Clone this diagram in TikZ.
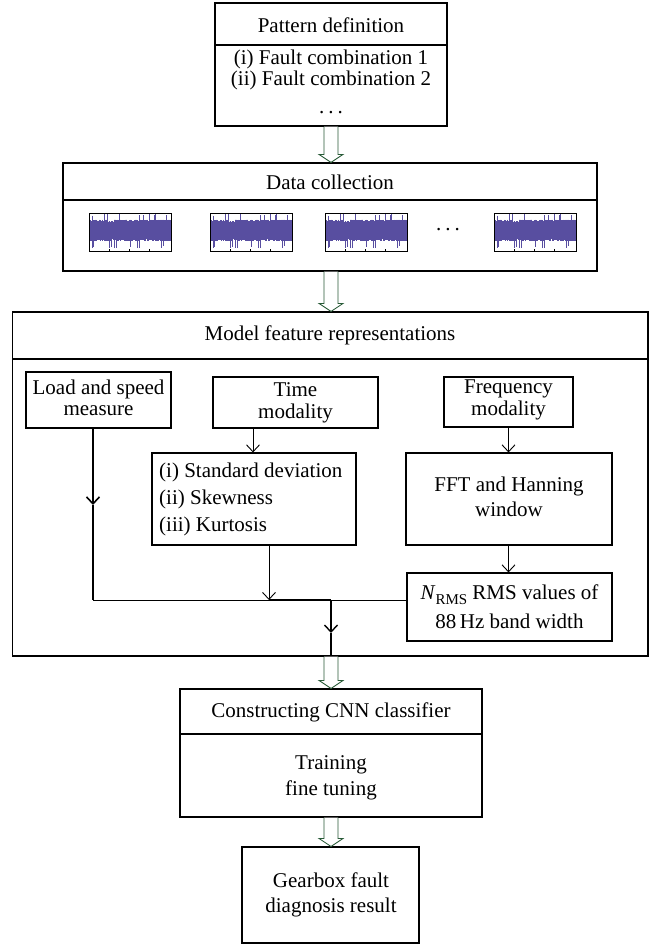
\documentclass[tikz,border=0pt]{standalone}
\usepackage{fontspec}
\setmainfont{Liberation Serif}
\usetikzlibrary{arrows.meta,calc}
\definecolor{arrgreen}{RGB}{40,90,55}
\definecolor{wavecol}{RGB}{88,78,160}
\tikzset{
  box/.style={draw=black, line width=1.1pt, inner sep=0pt, fill=white},
  lbl/.style={font=\fontsize{21}{21.5}\selectfont, inner sep=0pt, align=center},
  conn/.style={line width=0.9pt, -{Straight Barb[length=7pt,width=13pt]}},
  plain/.style={line width=0.9pt},
  hollow/.style={draw=arrgreen, line width=0.9pt, fill=white, line join=miter},
  wbox/.style={draw=black, line width=0.8pt, inner sep=0pt}
}
\newcommand\mkbox[6][]{% name, x1,y1,x2,y2
  \pgfmathsetmacro\bxcx{(#3+#5)/2}\pgfmathsetmacro\bxcy{(#4+#6)/2}%
  \pgfmathsetmacro\bxw{#5-#3}\pgfmathsetmacro\bxh{#6-#4}%
  \node[box, minimum width=\bxw pt, minimum height=\bxh pt, #1] (#2) at (\bxcx,\bxcy) {};}
% hollow arrow from south of node #1 to north of node #2
\newcommand\hollowarrow[2]{%
  \draw[hollow] ([xshift=-7pt]#1.south) -- ([xshift=-7pt,yshift=8pt]#1.south |- #2.north)
    -- ([xshift=-12pt,yshift=8pt]#1.south |- #2.north) -- (#1.south |- #2.north)
    -- ([xshift=12pt,yshift=8pt]#1.south |- #2.north) -- ([xshift=7pt,yshift=8pt]#1.south |- #2.north)
    -- ([xshift=7pt]#1.south);}
% waveform in box, left x, name
\newcommand\wave[2]{%
  \pgfmathsetseed{4711}%
  \node[wbox, minimum width=82pt, minimum height=38pt] (#2) at (#1+41,232) {};
  \foreach \i in {0,...,163}{%
    \pgfmathsetmacro\wx{#1+\i*0.5}%
    \pgfmathsetmacro\wt{222-2.5*rnd-6*(rnd>0.93)}%
    \pgfmathsetmacro\wb{239+2.5*rnd+7*(rnd>0.95)}%
    \draw[wavecol, line width=0.6pt] (\wx,\wt) -- (\wx,\wb);
  }
  \foreach \k in {20,40,60}{\draw[line width=0.6pt] (#1+\k,251) -- (#1+\k,248.5);}
  \node[wbox, minimum width=82pt, minimum height=38pt] at (#1+41,232) {};
}
\begin{document}
\begin{tikzpicture}[x=1pt,y=-1pt]
\useasboundingbox (0,0) rectangle (654,945);
\fill[white] (0,0) rectangle (654,945);

% Pattern definition
\mkbox{path}{215}{3}{447}{45}
\mkbox{patb}{215}{45}{447}{126}
\node[lbl] (pathl) at (331,25) {Pattern definition};
\node[lbl] (patl1) at (331,59) {(i) Fault combination 1};
\node[lbl] (patl2) at (331,80.5) {(ii) Fault combination 2};
\node[lbl] (patl3) at (331,113) {.\hspace{4pt}.\hspace{4pt}.};

% Data collection
\mkbox{datah}{63}{163}{597}{200}
\mkbox{datab}{63}{200}{597}{271}
\node[lbl] (datal) at (330,182) {Data collection};
\wave{89}{w1}
\wave{210}{w2}
\wave{325}{w3}
\wave{494}{w4}
\node[lbl] (wdots) at (448,230) {.\hspace{4pt}.\hspace{4pt}.};

% Model feature representations
\mkbox{modh}{12.5}{312}{648}{359}
\mkbox{modb}{12.5}{359}{648}{656}
\node[lbl] (modl) at (330,335) {Model feature representations};

\mkbox{load}{26}{372}{171}{428}
\node[lbl] (loadl) at (98.5,398) {Load and speed\\measure};
\mkbox{time}{213}{377}{378}{428}
\node[lbl] (timel) at (295.5,403) {Time\\modality};
\mkbox{freq}{444}{377}{573}{427}
\node[lbl] (freql) at (508.5,400) {Frequency\\modality};
\mkbox{std}{152}{453}{356}{545}
\node[lbl, align=left, anchor=west, font=\fontsize{21}{27}\selectfont] (stdl) at (159,499)
  {(i) Standard deviation\\(ii) Skewness\\(iii) Kurtosis};
\mkbox{fft}{406}{453}{612}{545}
\node[lbl, font=\fontsize{21}{25}\selectfont] (fftl) at (509,497) {FFT and Hanning\\window};
\mkbox{rms}{407}{573}{612}{641}
\node[lbl, font=\fontsize{21}{29}\selectfont] (rmsl) at (509.5,607)
  {\textit{N}\raisebox{-0.22em}{\fontsize{15}{15}\selectfont RMS} RMS values of\\88\,Hz band width};

% connectors
\coordinate (lm) at (93,505);
\coordinate (j1) at (93,600);
\coordinate (j2) at (269,600);
\coordinate (j3) at (331,600);
\coordinate (cm) at (331,633);
\draw[conn, line width=1.6pt] (load.south -| lm) -- (lm);
\draw[plain, line width=1.6pt] (lm) -- (j1);
\draw[plain] (j1) -- (rms.west |- j1);
\draw[plain, line width=1.8pt] (j2) -- (j3);
\draw[conn] (std.south -| j2) -- (j2);
\draw[conn] ([xshift=-42.5pt]time.south) -- ([xshift=-42.5pt]time.south |- std.north);
\draw[conn] (freq.south) -- (freq.south |- fft.north);
\draw[conn] (freq.south |- fft.south) -- (freq.south |- rms.north);
\draw[conn, line width=1.4pt] (j3) -- (cm);
\draw[plain, line width=1.4pt] (cm) -- (j3 |- modb.south);

% CNN
\mkbox{cnnh}{180}{689}{482}{734}
\mkbox{cnnb}{180}{734}{482}{817}
\node[lbl] (cnnl) at (331,712) {Constructing CNN classifier};
\node[lbl, font=\fontsize{21}{26}\selectfont] (cnnt) at (331,778) {Training\\fine tuning};

% Gearbox
\mkbox{gear}{242}{847}{419}{943}
\node[lbl, font=\fontsize{21}{25}\selectfont] (gearl) at (331,895) {Gearbox fault\\diagnosis result};

% hollow arrows
\hollowarrow{patb}{datah}
\hollowarrow{cnnb}{gear}
\draw[hollow] ([xshift=-7pt]datab.south -| patb.south) -- ([xshift=-7pt,yshift=8pt]patb.south |- modh.north)
    -- ([xshift=-12pt,yshift=8pt]patb.south |- modh.north) -- (patb.south |- modh.north)
    -- ([xshift=12pt,yshift=8pt]patb.south |- modh.north) -- ([xshift=7pt,yshift=8pt]patb.south |- modh.north)
    -- ([xshift=7pt]datab.south -| patb.south);
\draw[hollow] ([xshift=-7pt]modb.south -| cnnh.north) -- ([xshift=-7pt,yshift=8pt]cnnh.north)
    -- ([xshift=-12pt,yshift=8pt]cnnh.north) -- (cnnh.north)
    -- ([xshift=12pt,yshift=8pt]cnnh.north) -- ([xshift=7pt,yshift=8pt]cnnh.north)
    -- ([xshift=7pt]modb.south -| cnnh.north);
\end{tikzpicture}
\end{document}
